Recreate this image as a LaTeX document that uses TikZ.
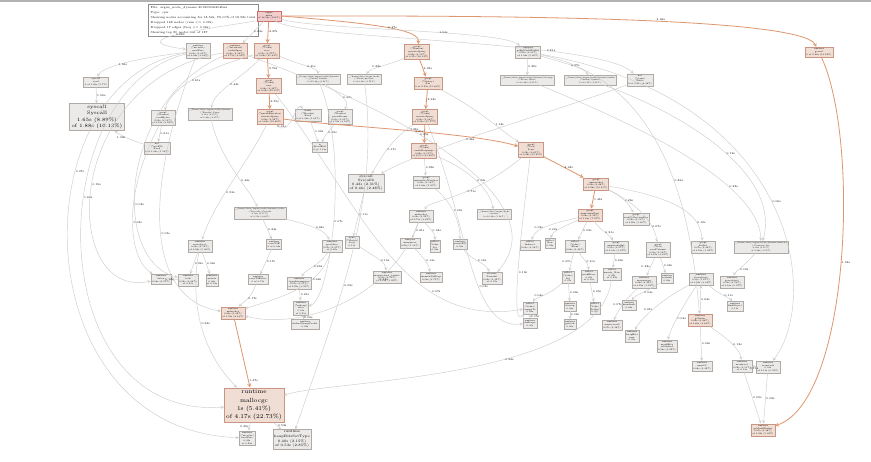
\documentclass[tikz,border=0pt]{standalone}
\usepackage{fontspec}
\usepackage{amsmath}

\definecolor{nodegrey}{RGB}{236,234,232}
\definecolor{nodeline}{RGB}{175,170,165}
\definecolor{nodepink}{RGB}{240,222,212}
\definecolor{pinkline}{RGB}{200,150,130}
\definecolor{rootpink}{RGB}{242,205,205}
\definecolor{rootline}{RGB}{205,110,110}
\definecolor{flowgrey}{RGB}{205,205,205}
\definecolor{floworange}{RGB}{222,150,110}

\tikzset{
  fnode/.style={draw=nodeline, fill=nodegrey, rectangle, inner sep=1.2pt, align=center,
    line width=0.3pt, font=\fontsize{2.2}{2.7}\selectfont},
  hotnode/.style={fnode, draw=pinkline, fill=nodepink},
  flow/.style={->, draw=flowgrey, line width=0.45pt},
  hotflow/.style={->, draw=floworange, line width=0.8pt},
  flowlbl/.style={font=\fontsize{2.8}{3}\selectfont, inner sep=0.6pt, right},
}

\begin{document}
\begin{tikzpicture}[>=stealth, x=1pt, y=-1pt]
\useasboundingbox (0,0) rectangle (871,461);
\fill[white] (0,0) rectangle (871,461);
\fill[black!30] (0,0) rectangle (871,2);

% Legend
\node[draw=black!45, fill=white, anchor=north west, align=left, inner sep=2.5pt,
      line width=0.4pt, font=\fontsize{2.9}{4.9}\selectfont] (legend) at (148,4)
  {File: argus\_node\_dynamo 20180502i204bzz\\Type: cpu\\
   Showing nodes accounting for 13.52s, 73.11\% of 18.58s total\\
   Dropped 168 nodes (cum <= 0.09s)\\Dropped 17 edges (freq <= 0.02s)\\
   Showing top 80 nodes out of 187};

% Root
\node[fnode, draw=rootline, fill=rootpink] (root) at (269,16) {argus\\main\\of 18.58s (100\%)};

% Row 1
\node[fnode] (a1) at (198,51) {runtime\\(*mcache)\\nextFree\\0.01s (0.05\%)\\of 0.64s (3.44\%)};
\node[hotnode] (a2) at (235,51) {runtime\\(*mcentral)\\cacheSpan\\0.03s (0.16\%)\\of 0.75s (4.04\%)};
\node[hotnode] (a3) at (267,51) {gocql\\(*Conn)\\recv\\0.05s (0.27\%)\\of 5.84s (31.43\%)};
\node[hotnode] (a4) at (417,52) {gocql\\(*Session)\\executeQuery\\0.02s (0.11\%)\\of 3.37s (18.14\%)};
\node[fnode] (a5) at (528,52) {runtime\\gcBgMarkWorker\\0.01s (0.05\%)\\of 1.04s (5.60\%)};
\node[hotnode] (a6) at (819,52) {runtime\\goexit\\0 of 2.46s (13.24\%)};

% Row 2
\node[fnode] (b1) at (96,82) {syscall\\read\\0 of 1.06s (5.7\%)};
\node[hotnode] (b2) at (269,86) {gocql\\(*Conn)\\exec\\0.06s (0.32\%)\\of 4.09s (22.01\%)};
\node[fnode, font=\fontsize{2}{2.5}\selectfont] (b3) at (318,79) {\_/home/data/argus/node/dynamo\\(*Node).handle\\0 of 0.41s (2.21\%)};
\node[fnode, font=\fontsize{2}{2.5}\selectfont] (b4) at (364,79) {\_/home/data/argus/node\\(*Node).process\\0 of 0.33s (1.78\%)};
\node[hotnode] (b5) at (428,83) {gocql\\(*Query)\\Iter\\0 of 2.95s (15.88\%)};
\node[fnode, font=\fontsize{2}{2.5}\selectfont] (b6) at (527,80) {\_/home/data/argus/node/dynamo/storage\\(*Store).Write\\0 of 0.38s (2.05\%)};
\node[fnode, font=\fontsize{2}{2.5}\selectfont] (b7) at (590,80) {\_/home/data/argus/node/dynamo/index\\(*Index).Update\\0 of 0.27s (1.45\%)};
\node[fnode] (b8) at (640,80) {net\\(*conn)\\Write\\0 of 0.81s (4.36\%)};

% Syscall
\node[fnode, inner sep=2pt, font=\fontsize{4.9}{6.2}\selectfont] (sysc) at (97,117)
  {syscall\\Syscall\\1.65s (8.89\%)\\of 1.88s (10.13\%)};

% Row 3
\node[fnode] (c2) at (163,118) {gocql\\(*framer)\\readBytes\\0.02s (0.11\%)\\of 0.61s (3.28\%)};
\node[fnode, font=\fontsize{2}{2.5}\selectfont] (c3) at (210,114) {\_/home/data/argus/node/dynamo\\(*Reader).Parse\\0.01s (0.05\%)\\of 0.44s (2.37\%)};
\node[hotnode] (c4) at (270,117) {gocql\\(*queryExecutor)\\executeQuery\\0.04s (0.22\%)\\of 3.62s (19.48\%)};
\node[fnode] (c5) at (308,115) {bufio\\(*Reader)\\Read\\0 of 1.08s (5.81\%)};
\node[fnode] (c6) at (340,117) {gocql\\(*framer)\\parseFrame\\0.01s (0.05\%)\\of 0.59s (3.18\%)};
\node[hotnode] (c7) at (425,117) {gocql\\(*Conn)\\executeQuery\\0.03s (0.16\%)\\of 2.93s (15.77\%)};

% Row 4
\node[fnode] (d1) at (157,148) {net\\(*netFD)\\Read\\0 of 1.03s (5.54\%)};
\node[fnode] (d2) at (320,147) {io\\ReadFull\\0 of 1.13s};
\node[hotnode] (d3) at (424,151) {gocql\\(*Conn)\\awaitResponse\\0.02s (0.11\%)\\of 2.21s (11.89\%)};
\node[hotnode] (d4) at (531,150) {gocql\\(*Iter)\\Scan\\0.12s (0.65\%)\\of 3.28s (17.65\%)};

% Row 5
\node[fnode, inner sep=1.5pt, font=\fontsize{3.4}{4}\selectfont] (sysc6) at (366,183)
  {syscall\\Syscall6\\0.43s (2.31\%)\\of 0.46s (2.48\%)};
\node[fnode] (e2) at (426,182) {gocql\\unmarshalVarchar\\0.03s (0.16\%)\\of 0.38s (2.05\%)};
\node[hotnode] (e3) at (596,184) {gocql\\unmarshal\\0.09s (0.48\%)\\of 2.48s (13.35\%)};

% Row 6
\node[fnode, font=\fontsize{2}{2.5}\selectfont] (f1) at (260,213) {\_/home/data/argus/node/dynamo/codec\\(*Decoder).Decode\\0.02s (0.11\%)\\of 0.52s (2.80\%)};
\node[fnode] (f2) at (421,216) {runtime\\makeslice\\0.04s (0.22\%)\\of 0.71s (3.82\%)};
\node[fnode, font=\fontsize{2}{2.5}\selectfont] (f3) at (494,214) {\_/home/data/argus/node\\convert\\0 of 0.22s (1.18\%)};
\node[hotnode] (f4) at (590,215) {gocql\\unmarshalList\\0.06s (0.32\%)\\of 1.48s (7.97\%)};
\node[fnode] (f5) at (636,219) {gocql\\readCollectionSize\\0.02s (0.11\%)\\of 0.26s (1.40\%)};

% Row 7
\node[fnode] (g1) at (200,246) {runtime\\newobject\\0.03s (0.16\%)\\of 0.94s (5.06\%)};
\node[fnode] (g2) at (274,244) {runtime\\convT2E\\0 of 0.34s};
\node[fnode] (g3) at (332,246) {runtime\\growslice\\0.05s (0.27\%)\\of 0.42s};
\node[fnode] (g4) at (352,242) {sync\\(*Mutex)\\Lock\\0.11s};
\node[fnode] (g5) at (410,243) {runtime\\memmove\\0.21s (1.13\%)};
\node[fnode] (g6) at (435,246) {reflect\\Value\\Set\\0.04s};
\node[fnode] (g7) at (460,244) {runtime\\assertE2I\\0.09s};
\node[fnode] (g8) at (530,245) {reflect\\Indirect\\0.03s (0.16\%)};
\node[fnode] (g9) at (550,243) {reflect\\New\\0.02s};
\node[fnode] (g10) at (575,246) {reflect\\(Value)\\Elem\\0.08s (0.43\%)};
\node[fnode] (g11) at (616,247) {gocql\\unmarshalInt\\0.05s (0.27\%)\\of 0.31s (1.67\%)};
\node[fnode] (g12) at (658,250) {gocql\\(*Iter)\\readColumn\\0.10s (0.54\%)\\of 0.67s (3.61\%)};
\node[fnode] (g13) at (703,247) {gocql\\decInt\\0.07s (0.38\%)\\of 0.19s (1.02\%)};
\node[fnode, font=\fontsize{2}{2.5}\selectfont] (g14) at (761,247) {\_/home/data/argus/node/dynamo/metrics\\(*Counter).Inc\\0.02s (0.11\%)\\of 0.28s (1.51\%)};

% Row 8
\node[fnode] (h1) at (161,279) {runtime\\futex\\0.18s (0.97\%)};
\node[fnode] (h2) at (188,280) {runtime\\lock\\0.09s (0.48\%)\\of 0.21s};
\node[fnode] (h3) at (212,280) {runtime\\unlock\\0.06s\\of 0.14s};
\node[fnode] (h4) at (258,279) {runtime\\convT2Eslice\\0 of 0.17s};
\node[fnode] (h5) at (299,283) {runtime\\typedmemmove\\0.05s (0.27\%)\\of 0.29s (1.56\%)};
\node[fnode] (h6) at (387,277) {runtime\\mapaccess1\_faststr\\0.13s (0.70\%)\\of 0.19s (1.02\%)};
\node[fnode] (h7) at (431,277) {runtime\\memclrNoHeap\\0.14s (0.75\%)};
\node[fnode] (h8) at (492,278) {strconv\\ParseInt\\0.06s (0.32\%)\\of 0.12s};
\node[fnode] (h9) at (568,277) {reflect\\(Value)\\Set\\0.07s};
\node[fnode] (h10) at (589,276) {reflect\\packEface\\0.05s\\of 0.10s};
\node[fnode] (h11) at (612,274) {reflect\\unsafe\_New\\0.02s\\of 0.24s};
\node[fnode] (h12) at (644,282) {runtime\\mapassign\\0.08s (0.43\%)\\of 0.23s (1.24\%)};
\node[fnode] (h13) at (667,278) {runtime\\aeshash\\0.06s};
\node[fnode] (h14) at (701,279) {runtime\\scanobject\\0.31s (1.67\%)\\of 0.62s (3.34\%)};
\node[fnode] (h15) at (732,282) {runtime\\greyobject\\0.10s (0.54\%)\\of 0.18s (0.97\%)};

% Row 9
\node[hotnode] (i1) at (233,313) {runtime\\makeslice\\0.06s (0.32\%)\\of 1.52s (8.18\%)};
\node[fnode] (i2) at (301,308) {runtime\\(*mheap)\\alloc\\0.01s\\of 0.21s};
\node[fnode] (i3) at (305,324) {runtime\\deductSweepCredit\\0.02s};
\node[fnode] (i4) at (530,308) {reflect\\(Value)\\assignTo\\0.04s};
\node[fnode] (i5) at (570,306) {runtime\\ifaceeq\\0.03s};
\node[fnode] (i6) at (595,308) {reflect\\Value\\SetInt\\0.05s};
\node[fnode] (i7) at (570,324) {runtime\\getitab\\0.06s};
\node[fnode] (i8) at (612,325) {runtime\\mapaccess2\\0.07s (0.38\%)};
\node[fnode] (i9) at (629,305) {runtime\\memhash\\0.04s};
\node[fnode] (i10) at (530,323) {runtime\\duffcopy\\0.05s};
\node[hotnode] (i11) at (700,320) {runtime\\gcDrain\\0.09s (0.48\%)\\of 0.86s (4.63\%)};
\node[fnode] (i12) at (735,306) {runtime\\findObject\\0.11s};

% Row 10
\node[fnode] (j1) at (632,336) {runtime\\heapBits\\next\\0.05s};
\node[fnode] (j2) at (667,346) {runtime\\markBits\\isMarked\\0.04s (0.22\%)};
\node[fnode] (j3) at (702,366) {runtime\\spanOf\\0.06s (0.32\%)};
\node[fnode] (j4) at (742,366) {runtime\\markroot\\0.02s (0.11\%)\\of 0.13s};
\node[fnode] (j5) at (768,367) {runtime\\scanstack\\0.01s\\of 0.11s (0.59\%)};

% Malloc
\node[hotnode, inner sep=2pt, font=\fontsize{6}{8.4}\selectfont] (malloc) at (254,405)
  {runtime\\mallocgc\\1s (5.41\%)\\of 4.17s (22.73\%)};
\node[fnode] (k2) at (247,438) {runtime\\(*mcache)\\nextFree\\0.02s\\of 0.29s};
\node[fnode, font=\fontsize{3.5}{4.6}\selectfont] (k3) at (292,439) {runtime\\heapBitsSetType\\0.40s (2.15\%)\\of 0.53s (2.85\%)};
\node[hotnode] (k4) at (763,430) {runtime\\gcMarkWorker\\0.07s (0.38\%)\\of 1.02s (5.49\%)};

% Hot paths
\draw[hotflow] (root) -- node[flowlbl] {3.37s} (a3);
\draw[hotflow] (a3) -- node[flowlbl] {2.74s} (b2);
\draw[hotflow] (b2) -- node[flowlbl] {2.55s} (c4);
\draw[hotflow] (c4) .. controls (330,126) and (470,132) .. node[flowlbl, above, pos=0.55] {3.28s} (d4);
\draw[hotflow] (d4) -- node[flowlbl] {2.48s} (e3);
\draw[hotflow] (e3) -- node[flowlbl] {1.48s} (f4);
\draw[hotflow] (root) .. controls (420,16) and (800,14) .. node[flowlbl, above, pos=0.6] {2.46s} (a6);
\draw[hotflow] (root.east) .. controls (380,24) and (420,30) .. node[flowlbl] {0.47s} (a4);
\draw[hotflow] (a4) -- node[flowlbl] {2.95s} (b5);
\draw[hotflow] (b5) -- node[flowlbl] {2.93s} (c7);
\draw[hotflow] (c7) -- node[flowlbl, left, pos=0.35] {2.21s} (d3);
\draw[hotflow] (i1) -- node[flowlbl, pos=0.9] {1.47s} (malloc);
\draw[hotflow] (a6) .. controls (860,140) and (850,400) .. node[flowlbl] {1.02s} (k4);

% Other edges
\draw[flow] (root) -- node[flowlbl] {0.64s} (a2);
\draw[flow] (root.south west) .. controls (200,30) and (120,40) .. node[flowlbl] {0.66s} (a1);
\draw[flow] (root) .. controls (320,30) and (500,30) .. node[flowlbl, pos=0.6] {1.04s} (a5);
\draw[flow] (root) .. controls (300,40) and (600,40) .. node[flowlbl, pos=0.7] {0.81s} (b8);
\draw[flow] (a1) .. controls (120,60) and (100,70) .. node[flowlbl] {1.06s} (b1);
\draw[flow] (b1) -- node[flowlbl] {1.06s} (sysc);
\draw[flow] (a1) .. controls (20,80) and (20,430) .. node[flowlbl, pos=0.35] {0.07s} (k2);
\draw[flow] (a1) .. controls (40,90) and (40,420) .. node[flowlbl, pos=0.4] {1.66s} (malloc);
\draw[flow] (a2) .. controls (60,80) and (60,300) .. node[flowlbl, pos=0.5] {0.19s} (h1);
\draw[flow] (a2) .. controls (120,100) and (110,260) .. node[flowlbl, pos=0.6] {0.08s} (h2);
\draw[flow] (a3) .. controls (200,70) and (170,90) .. node[flowlbl] {0.61s} (c2);
\draw[flow] (a3) .. controls (240,80) and (215,90) .. node[flowlbl] {0.44s} (c3);
\draw[flow] (a3) .. controls (300,65) and (318,68) .. node[flowlbl] {0.41s} (b3);
\draw[flow] (b3) .. controls (340,95) and (350,100) .. node[flowlbl] {0.33s} (c6);
\draw[flow] (a4) .. controls (390,65) and (370,68) .. node[flowlbl, left] {0.33s} (b4);
\draw[flow] (a5) -- node[flowlbl] {0.38s} (b6);
\draw[flow] (a5) .. controls (560,62) and (585,68) .. node[flowlbl] {0.27s} (b7);
\draw[flow] (a5) .. controls (660,80) and (690,200) .. node[flowlbl, pos=0.6] {0.86s} (i11);
\draw[flow] (b8) .. controls (560,110) and (420,150) .. node[flowlbl, pos=0.6] {0.46s} (sysc6);
\draw[flow] (b5) .. controls (480,110) and (500,130) .. node[flowlbl, pos=0.6] {1.13s} (d4);
\draw[flow] (c2) -- node[flowlbl] {0.61s} (d1);
\draw[flow] (d1) .. controls (130,140) and (120,135) .. node[flowlbl, left] {1.03s} (sysc);
\draw[flow] (c5) -- node[flowlbl] {1.08s} (d2);
\draw[flow] (c6) .. controls (330,130) and (325,135) .. node[flowlbl] {0.29s} (d2);
\draw[flow] (c3) .. controls (220,160) and (250,190) .. node[flowlbl, pos=0.6] {0.44s} (f1);
\draw[flow] (c4) .. controls (290,140) and (296,100) .. node[flowlbl, left, pos=0.3] {0.41s} (c5);
\draw[flow] (c4) .. controls (250,160) and (215,200) .. node[flowlbl, pos=0.6] {0.52s} (g1);
\draw[flow] (c7) .. controls (390,140) and (380,160) .. node[flowlbl] {0.17s} (sysc6);
\draw[flow] (d3) -- node[flowlbl] {0.38s} (e2);
\draw[flow] (d3) .. controls (470,170) and (490,190) .. node[flowlbl] {0.22s} (f3);
\draw[flow] (d4) .. controls (470,200) and (430,200) .. node[flowlbl, pos=0.4] {0.71s} (f2);
\draw[flow] (e3) .. controls (620,195) and (630,205) .. node[flowlbl] {0.26s} (f5);
\draw[flow] (e3) .. controls (640,205) and (655,225) .. node[flowlbl, pos=0.7] {0.67s} (g12);
\draw[flow] (e3) .. controls (690,200) and (700,220) .. node[flowlbl, pos=0.7] {0.19s} (g13);
\draw[flow] (f4) .. controls (600,230) and (610,235) .. node[flowlbl] {0.31s} (g11);
\draw[flow] (f4) -- node[flowlbl] {0.08s} (g10);
\draw[flow] (f4) .. controls (560,228) and (552,232) .. node[flowlbl, left] {0.02s} (g9);
\draw[flow] (f4) .. controls (545,225) and (535,230) .. node[flowlbl, left] {0.03s} (g8);
\draw[flow] (f2) -- node[flowlbl] {0.21s} (g5);
\draw[flow] (f2) .. controls (430,230) and (435,232) .. node[flowlbl] {0.04s} (g6);
\draw[flow] (f2) .. controls (390,300) and (300,330) .. node[flowlbl, pos=0.3] {0.14s} (i1);
\draw[flow] (f1) -- node[flowlbl] {0.34s} (g2);
\draw[flow] (f1) .. controls (310,225) and (325,230) .. node[flowlbl] {0.42s} (g3);
\draw[flow] (e2) .. controls (450,200) and (460,220) .. node[flowlbl] {0.09s} (g7);
\draw[flow] (sysc6) -- node[flowlbl] {0.11s} (g4);
\draw[flow] (g1) .. controls (190,300) and (200,350) .. node[flowlbl, pos=0.5] {0.94s} (malloc);
\draw[flow] (g1) -- node[flowlbl] {0.09s} (h2);
\draw[flow] (g1) -- node[flowlbl] {0.06s} (h3);
\draw[flow] (h2) -- node[flowlbl, left] {0.12s} (h1);
\draw[flow] (g2) -- node[flowlbl] {0.17s} (h4);
\draw[flow] (g3) .. controls (320,265) and (305,270) .. node[flowlbl] {0.29s} (h5);
\draw[flow] (g3) .. controls (320,290) and (270,300) .. node[flowlbl, pos=0.3] {0.42s} (i1);
\draw[flow] (h4) .. controls (250,300) and (245,300) .. node[flowlbl] {0.17s} (i1);
\draw[flow] (g4) .. controls (380,260) and (385,262) .. node[flowlbl] {0.19s} (h6);
\draw[flow] (g5) .. controls (425,260) and (428,262) .. node[flowlbl] {0.14s} (h7);
\draw[flow] (g7) .. controls (470,260) and (485,262) .. node[flowlbl] {0.12s} (h8);
\draw[flow] (g10) -- node[flowlbl, left] {0.07s} (h9);
\draw[flow] (g10) .. controls (585,262) and (588,262) .. node[flowlbl] {0.10s} (h10);
\draw[flow] (g11) -- node[flowlbl] {0.24s} (h11);
\draw[flow] (g12) -- node[flowlbl, left] {0.23s} (h12);
\draw[flow] (g12) -- node[flowlbl] {0.06s} (h13);
\draw[flow] (g14) .. controls (740,270) and (735,272) .. node[flowlbl] {0.18s} (h15);
\draw[flow] (b6) .. controls (700,150) and (760,200) .. node[flowlbl, pos=0.6] {0.28s} (g14);
\draw[flow] (i11) -- node[flowlbl] {0.62s} (h14);
\draw[flow] (h14) .. controls (720,295) and (730,298) .. node[flowlbl] {0.11s} (i12);
\draw[flow] (h5) -- node[flowlbl] {0.21s} (i2);
\draw[flow] (i2) -- node[flowlbl] {0.02s} (i3);
\draw[flow] (h9) .. controls (550,295) and (535,298) .. node[flowlbl, left] {0.04s} (i4);
\draw[flow] (h9) -- node[flowlbl] {0.03s} (i5);
\draw[flow] (h10) -- node[flowlbl] {0.05s} (i6);
\draw[flow] (i5) -- node[flowlbl] {0.06s} (i7);
\draw[flow] (h12) .. controls (625,300) and (618,310) .. node[flowlbl, left] {0.07s} (i8);
\draw[flow] (h13) .. controls (650,290) and (635,295) .. node[flowlbl] {0.04s} (i9);
\draw[flow] (i4) -- node[flowlbl] {0.05s} (i10);
\draw[flow] (h14) .. controls (660,300) and (640,320) .. node[flowlbl, left] {0.05s} (j1);
\draw[flow] (h14) .. controls (680,310) and (670,330) .. node[flowlbl] {0.04s} (j2);
\draw[flow] (i11) -- node[flowlbl] {0.06s} (j3);
\draw[flow] (i11) .. controls (730,340) and (740,350) .. node[flowlbl] {0.13s} (j4);
\draw[flow] (j4) -- node[flowlbl, below] {0.11s} (j5);
\draw[flow] (j4) -- node[flowlbl] {0.09s} (k4);
\draw[flow] (j5) -- node[flowlbl] {0.08s} (k4);
\draw[flow] (h11) .. controls (600,380) and (330,380) .. node[flowlbl, pos=0.4] {0.24s} (malloc);
\draw[flow] (a2) .. controls (400,110) and (560,200) .. node[flowlbl, pos=0.4] {0.09s} (h8);
\draw[flow] (c7) .. controls (470,230) and (470,330) .. node[flowlbl, pos=0.6] {0.05s} (i10);
\draw[flow] (b2) .. controls (360,200) and (400,330) .. node[flowlbl, pos=0.7] {0.07s} (i4);
\draw[flow] (b4) .. controls (380,200) and (340,300) .. node[flowlbl, pos=0.6] {0.09s} (k3);
\draw[flow] (malloc) -- node[flowlbl, left] {0.29s} (k2);
\draw[flow] (malloc) -- node[flowlbl] {0.53s} (k3);
\draw[flow] (b7) .. controls (700,120) and (780,180) .. node[flowlbl, pos=0.5] {0.12s} (g14);
\draw[flow] (b3) .. controls (350,160) and (330,300) .. node[flowlbl, pos=0.5] {0.07s} (i2);
\draw[flow] (a1) .. controls (140,200) and (150,300) .. node[flowlbl, pos=0.5] {0.05s} (i1);
\draw[flow] (c2) .. controls (120,200) and (130,260) .. node[flowlbl, pos=0.5] {0.03s} (h1);
\draw[flow] (a5) .. controls (800,100) and (820,300) .. node[flowlbl, pos=0.5] {0.06s} (j5);
\draw[flow] (d4) .. controls (520,240) and (510,330) .. node[flowlbl, pos=0.5] {0.13s} (i4);
\end{tikzpicture}
\end{document}
